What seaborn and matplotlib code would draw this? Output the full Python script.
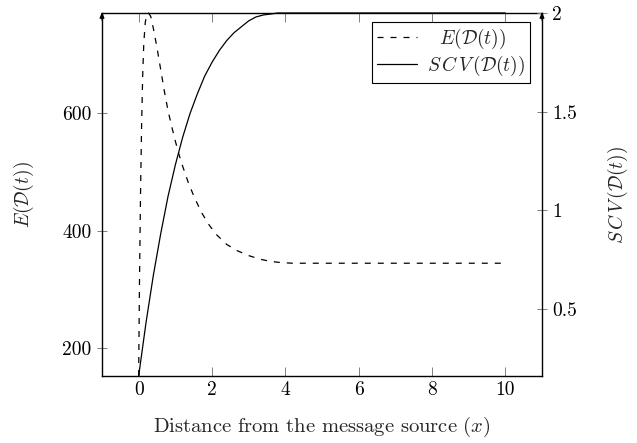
import matplotlib
matplotlib.use("Agg")
import matplotlib.pyplot as plt
import seaborn as sns
import pandas as pd

# ---- data ----
x_e = [0, 0.02, 0.05, 0.08, 0.11, 0.14, 0.18, 0.22, 0.27, 0.33, 0.4, 0.5, 0.6,
       0.7, 0.8, 0.9, 1.0, 1.1, 1.2, 1.35, 1.5, 1.7, 1.9, 2.1, 2.4, 2.7, 3.0,
       3.3, 3.6, 3.9, 4.2, 10]
e_vals = [153, 300, 460, 580, 665, 720, 755, 768, 771, 765, 745, 712, 675,
          638, 605, 578, 553, 530, 510, 483, 460, 433, 412, 395, 377, 366, 358,
          352, 348, 346, 345, 345]

x_s = [0, 0.2, 0.4, 0.6, 0.8, 1.0, 1.2, 1.4, 1.6, 1.8, 2.0, 2.2, 2.4, 2.6,
       2.8, 3.0, 3.2, 3.4, 3.6, 3.8, 4.0, 10]
scv_vals = [0.16, 0.43, 0.67, 0.88, 1.07, 1.23, 1.37, 1.49, 1.59, 1.68, 1.75,
            1.81, 1.86, 1.90, 1.93, 1.96, 1.98, 1.99, 1.995, 2.0, 2.0, 2.0]

x_ticks = [0, 2, 4, 6, 8, 10]
left_ticks = [200, 400, 600]
right_ticks = [0.5, 1, 1.5, 2]
right_tick_labels = ["0.5", "1", "1.5", "2"]

label_e = r"$E(\mathcal{D}(t))$"
label_s = r"$S\,C\,V\,(\mathcal{D}(t))$"
legend_e = r"$\;\;\,E(\mathcal{D}(t))$"
x_label = r"Distance from the message source ($x$)"

# ---- style ----
sns.set_style("ticks")
plt.rcParams["font.family"] = ["cmr10", "DejaVu Serif"]
plt.rcParams["mathtext.fontset"] = "cm"
plt.rcParams["axes.unicode_minus"] = False
plt.rcParams["axes.formatter.use_mathtext"] = True

FS = 14
W, H = 637, 443
fig = plt.figure(figsize=(W / 100, H / 100), dpi=100)
L, R, T, B = 102, 542, 13, 376
ax = fig.add_axes([L / W, (H - B) / H, (R - L) / W, (B - T) / H])
ax2 = ax.twinx()

df_e = pd.DataFrame({"x": x_e, "E": e_vals})
df_s = pd.DataFrame({"x": x_s, "SCV": scv_vals})

sns.lineplot(data=df_e, x="x", y="E", ax=ax, color="black", lw=0.9,
             estimator=None, sort=False)
line_e = ax.lines[-1]
line_e.set_dashes([4.8, 5.6])
line_e.set_clip_on(False)

sns.lineplot(data=df_s, x="x", y="SCV", ax=ax2, color="black", lw=0.9,
             estimator=None, sort=False)
line_s = ax2.lines[-1]
line_s.set_clip_on(False)

ax.set_xlim(-1, 11)
ax.set_ylim(153, 771)
ax2.set_ylim(0.16, 2.0)

ax.set_xticks(x_ticks)
ax.set_xticklabels([str(v) for v in x_ticks])
ax.set_yticks(left_ticks)
ax.set_yticklabels([str(v) for v in left_ticks])
ax2.set_yticks(right_ticks)
ax2.set_yticklabels(right_tick_labels)

tick_col = "0.5"
ax.tick_params(axis="x", direction="in", length=6.5, width=0.7, color=tick_col,
               top=True, bottom=True, labelsize=FS, pad=4, labelcolor="black")
ax.tick_params(axis="y", direction="inout", length=7, width=0.7, color=tick_col,
               left=True, right=False, labelsize=FS, pad=4, labelcolor="black")
ax2.tick_params(axis="y", direction="inout", length=7, width=0.7, color=tick_col,
                right=True, left=False, labelsize=FS, pad=4, labelcolor="black")

for s in ["left", "bottom", "top"]:
    ax.spines[s].set_visible(True)
    ax.spines[s].set_linewidth(1.0)
    ax.spines[s].set_color("black")
ax.spines["right"].set_visible(False)
for s in ["left", "bottom", "top"]:
    ax2.spines[s].set_visible(False)
ax2.spines["right"].set_visible(True)
ax2.spines["right"].set_linewidth(1.0)
ax2.spines["right"].set_color("black")

# arrow heads on the y axes
for xa in (0, 1):
    ax2.annotate("", xy=(xa, 1.003), xytext=(xa, 0.98), xycoords="axes fraction",
                 textcoords="axes fraction", annotation_clip=False,
                 arrowprops=dict(arrowstyle="-|>,head_length=0.35,head_width=0.14",
                                 color="black", lw=0.8, shrinkA=0, shrinkB=0))

ax.set_xlabel(x_label, fontsize=14.8, va="center")
ax.xaxis.set_label_coords(0.5, (B - 427) / (B - T))
ax.set_ylabel(label_e, fontsize=FS, va="center")
ax.yaxis.set_label_coords((24 - L) / (R - L), 0.5)
ax2.set_ylabel(label_s, fontsize=FS, va="center", rotation=90)
ax2.yaxis.set_label_coords((617.5 - L) / (R - L), 0.5)

leg = ax2.legend([line_e, line_s], [legend_e, label_s], loc="upper right",
                 bbox_to_anchor=((530 - L) / (R - L), (B - 22) / (B - T)),
                 borderaxespad=0, fancybox=False, framealpha=1, edgecolor="black",
                 fontsize=FS, handlelength=2.1, handletextpad=0.5,
                 borderpad=0.25, labelspacing=0.15)
leg.get_frame().set_linewidth(0.8)

fig.savefig("out.png", dpi=100)
